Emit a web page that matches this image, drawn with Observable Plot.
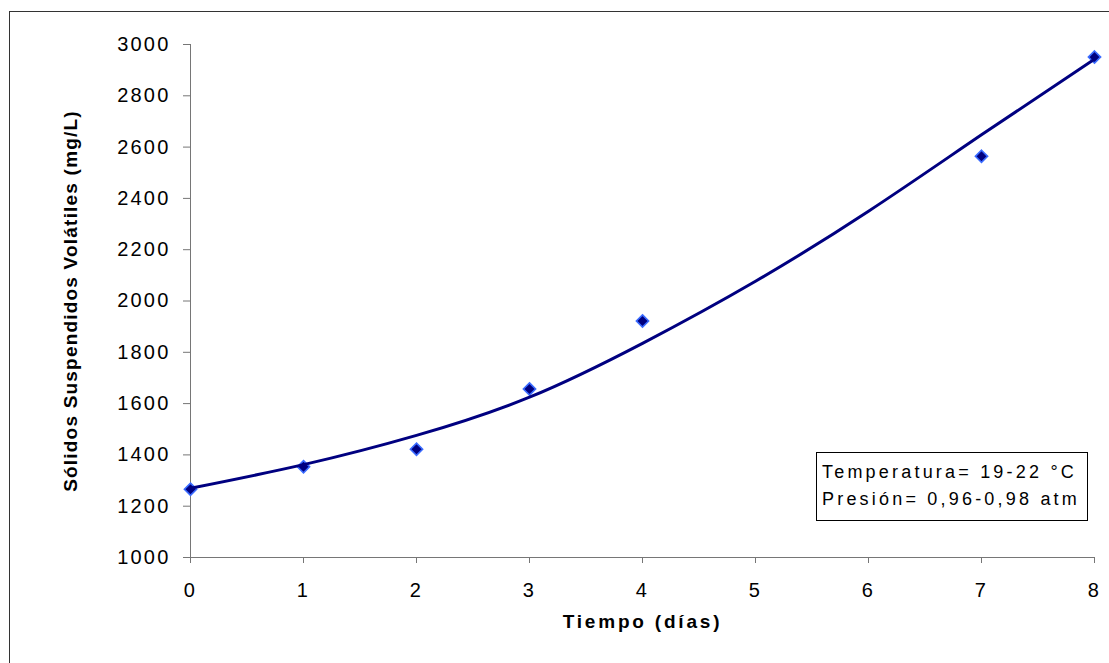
<!DOCTYPE html>
<html>
<head>
<meta charset="utf-8">
<script src="https://cdn.jsdelivr.net/npm/d3@7"></script>
<script src="https://cdn.jsdelivr.net/npm/@observablehq/plot@0.6"></script>
<style>
  html, body { margin: 0; padding: 0; background: #fff; }
  #wrap { position: relative; width: 1109px; height: 663px; overflow: hidden; font-family: "Liberation Sans", Arial, sans-serif; }
  #frame { position: absolute; left: 9px; top: 11px; width: 1200px; height: 700px; border-left: 1px solid #333; border-top: 1px solid #333; pointer-events: none; }
  #note { position: absolute; left: 816px; top: 452px; width: 272px; height: 69px; box-sizing: border-box; border: 1px solid #000; padding: 6px 0 0 5px; font-size: 18px; line-height: 27px; letter-spacing: 3.2px; color: #000; white-space: nowrap; }
  svg [aria-label="y-axis tick label"] text,
  svg [aria-label="x-axis tick label"] text { letter-spacing: 2.2px; }
  svg .xlab text { letter-spacing: 2.8px; }
  svg .ylab text { letter-spacing: 1.2px; }
</style>
</head>
<body>
<div id="wrap"><div id="frame"></div></div>
<script>
// Measured volatile suspended solids over time
const days = [0, 1, 2, 3, 4, 7, 8];
const ssv = [1266, 1354, 1422, 1657, 1922, 2564, 2951];

// Trend line values at each day
const trendDays = [0, 1, 2, 3, 4, 5, 6, 7, 8];
const trendSsv = [1270, 1362, 1476, 1625, 1835, 2077, 2350, 2648, 2943];

// Axis ticks and labels
const xTicks = [0, 1, 2, 3, 4, 5, 6, 7, 8];
const yTicks = [1000, 1200, 1400, 1600, 1800, 2000, 2200, 2400, 2600, 2800, 3000];
const xTitle = "Tiempo (días)";
const yTitle = "Sólidos Suspendidos Volátiles (mg/L)";
const noteLines = ["Temperatura= 19-22 °C", "Presión= 0,96-0,98 atm"];

const points = days.map((d, i) => ({day: d, value: ssv[i]}));
const trend = trendDays.map((d, i) => ({day: d, value: trendSsv[i]}));

const axisGray = "#767676";

const chart = Plot.plot({
  width: 1109,
  height: 663,
  marginLeft: 190,
  marginRight: 15,
  marginTop: 44,
  marginBottom: 106,
  x: {domain: [0, 8]},
  y: {domain: [1000, 3000]},
  style: {fontFamily: "'Liberation Sans', Arial, sans-serif", background: "transparent", color: "#000", overflow: "visible"},
  marks: [
    Plot.ruleY([1000], {stroke: axisGray, strokeWidth: 1}),
    Plot.ruleX([0], {stroke: axisGray, strokeWidth: 1}),
    Plot.axisY({ticks: yTicks, tickSize: 7, tickPadding: 13, fontSize: 20, stroke: axisGray, label: null, tickFormat: d => String(d)}),
    Plot.axisX({ticks: xTicks, tickSize: 6, tickPadding: 19, fontSize: 20, stroke: axisGray, label: null, tickFormat: d => String(d)}),
    Plot.dot(points, {x: "day", y: "value", symbol: "diamond2", r: 5.5, fill: "#000080", stroke: "#3a6bff", strokeWidth: 1.6}),
    Plot.line(trend, {x: "day", y: "value", curve: "natural", stroke: "#000080", strokeWidth: 3}),
    Plot.text([xTitle], {frameAnchor: "bottom", dy: 70, fontSize: 19, fontWeight: "bold", fill: "#000", className: "xlab"}),
    Plot.text([yTitle], {frameAnchor: "left", textAnchor: "middle", dx: -120, rotate: -90, fontSize: 19, fontWeight: "bold", fill: "#000", className: "ylab"})
  ]
});

const wrap = document.getElementById("wrap");
wrap.insertBefore(chart, wrap.firstChild);

const note = document.createElement("div");
note.id = "note";
note.innerHTML = noteLines.map(t => `<div>${t}</div>`).join("");
wrap.appendChild(note);
</script>
</body>
</html>
